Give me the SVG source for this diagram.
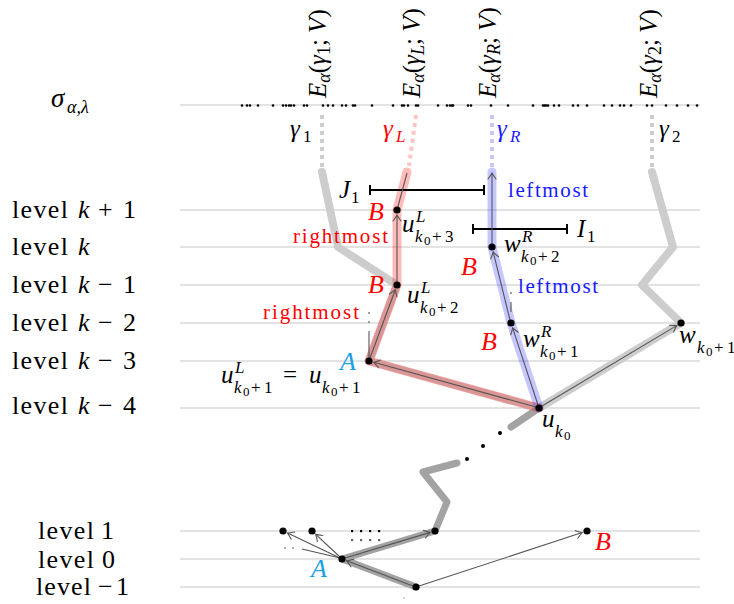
<svg xmlns="http://www.w3.org/2000/svg" width="734" height="604" viewBox="0 0 734 604">
<style>
text{font-family:"Liberation Serif","DejaVu Serif",serif;fill:#000}
.lv{font-size:26px}
.m{font-size:25px;font-style:italic}
.big{font-size:26px}
.s{font-size:17px}
.ss{font-size:13px}
.i{font-style:italic}
.u{font-style:normal}
.red{fill:#ff0000}
.blue{fill:#1a1aff}
.cy{fill:#1ba1e2}
.hl{stroke:#c8c8c8;stroke-width:1.2;fill:none}
.col{stroke-width:4;stroke-dasharray:4 4;fill:none}
.gl{stroke:#cdcdcd;stroke-width:8;fill:none;stroke-linecap:round;stroke-linejoin:round}
.gd{stroke:#a3a3a3;stroke-width:7;fill:none;stroke-linecap:round;stroke-linejoin:round}
.rb{stroke:#ff0000;stroke-opacity:0.27;stroke-width:9;fill:none;stroke-linecap:round;stroke-linejoin:round}
.bb{stroke:#0000ff;stroke-opacity:0.22;stroke-width:9;fill:none;stroke-linecap:round;stroke-linejoin:round}
.ar{stroke:#555;stroke-width:1.1;fill:none;marker-end:url(#ah)}
.ln{stroke:#555;stroke-width:1.1;fill:none}
.nd{fill:#000}
.sd{fill:#000}
.an{font-size:21px}
.rot{font-size:25px}
.rs{font-size:18px}
</style>
<defs>
<marker id="ah" markerWidth="10" markerHeight="10" viewBox="-8 -5 10 10" refX="0" refY="0" orient="auto" markerUnits="userSpaceOnUse">
<path d="M-6,-4 Q-2,-1 0,0 Q-2,1 -6,4" fill="none" stroke="#555" stroke-width="1.1" stroke-linecap="round"/>
</marker>
</defs>

<g id="levels">
<line class="hl" x1="180" y1="105" x2="700" y2="105"/>
<line class="hl" x1="180" y1="210" x2="700" y2="210"/>
<line class="hl" x1="180" y1="247" x2="700" y2="247"/>
<line class="hl" x1="180" y1="285" x2="700" y2="285"/>
<line class="hl" x1="180" y1="323" x2="700" y2="323"/>
<line class="hl" x1="180" y1="361" x2="700" y2="361"/>
<line class="hl" x1="180" y1="408" x2="700" y2="408"/>
<line class="hl" x1="180" y1="531" x2="700" y2="531"/>
<line class="hl" x1="180" y1="559" x2="700" y2="559"/>
<line class="hl" x1="180" y1="587" x2="700" y2="587"/>
</g>

<g id="level-labels">
<text class="lv" y="218"><tspan x="12" textLength="56">level</tspan><tspan x="78" class="i">k</tspan><tspan x="98">+</tspan><tspan x="123">1</tspan></text>
<text class="lv" y="255"><tspan x="12" textLength="56">level</tspan><tspan x="78" class="i">k</tspan></text>
<text class="lv" y="293"><tspan x="12" textLength="56">level</tspan><tspan x="78" class="i">k</tspan><tspan x="98">−</tspan><tspan x="123">1</tspan></text>
<text class="lv" y="331"><tspan x="12" textLength="56">level</tspan><tspan x="78" class="i">k</tspan><tspan x="98">−</tspan><tspan x="123">2</tspan></text>
<text class="lv" y="369"><tspan x="12" textLength="56">level</tspan><tspan x="78" class="i">k</tspan><tspan x="98">−</tspan><tspan x="123">3</tspan></text>
<text class="lv" y="414"><tspan x="12" textLength="56">level</tspan><tspan x="78" class="i">k</tspan><tspan x="98">−</tspan><tspan x="123">4</tspan></text>
<text class="lv" y="539"><tspan x="38" textLength="56">level</tspan><tspan x="101">1</tspan></text>
<text class="lv" y="568"><tspan x="38" textLength="56">level</tspan><tspan x="102">0</tspan></text>
<text class="lv" y="595"><tspan x="36" textLength="55">level</tspan><tspan x="98">−</tspan><tspan x="116">1</tspan></text>
<text class="m" style="font-size:27px" x="51" y="107">σ<tspan class="s" style="font-size:18px" x="67" y="113">α,λ</tspan></text>
</g>

<g id="sigma-points">
<circle class="sd" cx="242" cy="105.5" r="1.3"/><circle class="sd" cx="247" cy="105.5" r="1.3"/><circle class="sd" cx="250" cy="105.5" r="1.3"/><circle class="sd" cx="258" cy="105.5" r="1.3"/>
<circle class="sd" cx="273" cy="105.5" r="1.3"/><circle class="sd" cx="283" cy="105.5" r="1.3"/><circle class="sd" cx="286" cy="105.5" r="1.3"/><circle class="sd" cx="289" cy="105.5" r="1.3"/>
<circle class="sd" cx="291" cy="105.5" r="1.3"/><circle class="sd" cx="294" cy="105.5" r="1.3"/><circle class="sd" cx="304" cy="105.5" r="1.3"/><circle class="sd" cx="307" cy="105.5" r="1.3"/>
<circle class="sd" cx="323" cy="105.5" r="1.3"/><circle class="sd" cx="328" cy="105.5" r="1.3"/><circle class="sd" cx="333" cy="105.5" r="1.3"/><circle class="sd" cx="342" cy="105.5" r="1.3"/>
<circle class="sd" cx="346" cy="105.5" r="1.3"/><circle class="sd" cx="353" cy="105.5" r="1.3"/><circle class="sd" cx="355" cy="105.5" r="1.3"/><circle class="sd" cx="372" cy="105.5" r="1.3"/>
<circle class="sd" cx="393" cy="105.5" r="1.3"/><circle class="sd" cx="402" cy="105.5" r="1.3"/><circle class="sd" cx="404" cy="105.5" r="1.3"/><circle class="sd" cx="408" cy="105.5" r="1.3"/>
<circle class="sd" cx="416" cy="105.5" r="1.3"/><circle class="sd" cx="418" cy="105.5" r="1.3"/><circle class="sd" cx="438" cy="105.5" r="1.3"/><circle class="sd" cx="447" cy="105.5" r="1.3"/>
<circle class="sd" cx="452" cy="105.5" r="1.3"/><circle class="sd" cx="468" cy="105.5" r="1.3"/><circle class="sd" cx="450" cy="105.5" r="1.3"/><circle class="sd" cx="453" cy="105.5" r="1.3"/>
<circle class="sd" cx="471" cy="105.5" r="1.3"/><circle class="sd" cx="491" cy="105.5" r="1.3"/><circle class="sd" cx="508" cy="105.5" r="1.3"/><circle class="sd" cx="533" cy="105.5" r="1.3"/>
<circle class="sd" cx="543" cy="105.5" r="1.3"/><circle class="sd" cx="544.5" cy="105.5" r="1.3"/><circle class="sd" cx="546" cy="105.5" r="1.3"/><circle class="sd" cx="548" cy="105.5" r="1.3"/>
<circle class="sd" cx="554" cy="105.5" r="1.3"/><circle class="sd" cx="559" cy="105.5" r="1.3"/><circle class="sd" cx="573" cy="105.5" r="1.3"/><circle class="sd" cx="578" cy="105.5" r="1.3"/>
<circle class="sd" cx="587" cy="105.5" r="1.3"/><circle class="sd" cx="604" cy="105.5" r="1.3"/><circle class="sd" cx="612" cy="105.5" r="1.3"/><circle class="sd" cx="620" cy="105.5" r="1.3"/>
<circle class="sd" cx="624" cy="105.5" r="1.3"/><circle class="sd" cx="631" cy="105.5" r="1.3"/><circle class="sd" cx="647" cy="105.5" r="1.3"/><circle class="sd" cx="652" cy="105.5" r="1.3"/>
<circle class="sd" cx="666" cy="105.5" r="1.3"/><circle class="sd" cx="677" cy="105.5" r="1.3"/><circle class="sd" cx="688" cy="105.5" r="1.3"/><circle class="sd" cx="697" cy="105.5" r="1.3"/>
</g>

<g id="energy-labels">
<text class="rot" transform="translate(326,98) rotate(-90)"><tspan class="i">E</tspan><tspan class="rs i" dy="4">α</tspan><tspan dy="-4">(</tspan><tspan class="i">γ</tspan><tspan class="rs" dy="4">1</tspan><tspan dy="-4">;</tspan><tspan class="i"> V</tspan>)</text>
<text class="rot" transform="translate(420,98) rotate(-90)"><tspan class="i">E</tspan><tspan class="rs i" dy="4">α</tspan><tspan dy="-4">(</tspan><tspan class="i">γ</tspan><tspan class="rs i" dy="4">L</tspan><tspan dy="-4">;</tspan><tspan class="i"> V</tspan>)</text>
<text class="rot" transform="translate(496,98) rotate(-90)"><tspan class="i">E</tspan><tspan class="rs i" dy="4">α</tspan><tspan dy="-4">(</tspan><tspan class="i">γ</tspan><tspan class="rs i" dy="4">R</tspan><tspan dy="-4">;</tspan><tspan class="i"> V</tspan>)</text>
<text class="rot" transform="translate(657,98) rotate(-90)"><tspan class="i">E</tspan><tspan class="rs i" dy="4">α</tspan><tspan dy="-4">(</tspan><tspan class="i">γ</tspan><tspan class="rs" dy="4">2</tspan><tspan dy="-4">;</tspan><tspan class="i"> V</tspan>)</text>
</g>

<g id="columns">
<line class="col" stroke="#cccccc" x1="322" y1="115" x2="322" y2="168"/>
<line class="col" stroke="#ffc4c4" x1="416" y1="115" x2="409" y2="166"/>
<line class="col" stroke="#c8c8ff" x1="492" y1="115" x2="492" y2="168"/>
<line class="col" stroke="#cccccc" x1="652" y1="115" x2="652" y2="168"/>
<text class="m" x="290" y="137">γ<tspan class="s u" x="303" y="142">1</tspan></text>
<text class="m red" x="383" y="137">γ<tspan class="s" x="396" y="142">L</tspan></text>
<text class="m blue" x="497" y="137">γ<tspan class="s" x="510" y="142">R</tspan></text>
<text class="m" x="659" y="137">γ<tspan class="s u" x="672" y="142">2</tspan></text>
</g>

<g id="paths">
<path class="gl" d="M322,172 L338,247 L397,285 L369,361 L539,408"/>
<path class="gl" d="M652,172 L673,247 L642,285 L681,323 L539,408"/>
<path class="gd" d="M539,408 L511,427"/>
<path class="gd" d="M457,463 L423,472 L447,502 L435,531 L342,559 L416,587"/>
<path class="rb" d="M407,172 L397,210 L397,285 L369,361 L539,408"/>
<path class="bb" d="M492,172 L492,247 L511,323 L539,408"/>
</g>

<g id="intervals" stroke="#000" stroke-width="2" fill="none">
<line x1="370" y1="190" x2="484" y2="190"/>
<line x1="370" y1="185" x2="370" y2="195"/>
<line x1="484" y1="185" x2="484" y2="195"/>
<line x1="473" y1="229" x2="567" y2="229"/>
<line x1="473" y1="224" x2="473" y2="234"/>
<line x1="567" y1="224" x2="567" y2="234"/>
</g>
<text class="m" x="339" y="198">J<tspan class="s u" x="351" y="203">1</tspan></text>
<text class="m" x="577" y="237">I<tspan class="s u" x="587" y="242">1</tspan></text>

<g id="connectors">
<path class="ln" d="M397,210 L407,173"/>
<path class="ar" d="M397,282 L397,215"/>
<path class="ar" d="M370,358 L395.3,289.7"/>
<path class="ar" d="M536,407 L373.8,362.3"/>
<path class="ar" d="M538,405 L512.6,327.8"/>
<path class="ar" d="M510,320 L493.2,251.9"/>
<path class="ar" d="M492,244 L492,173"/>
<path class="ar" d="M542,406 L676.7,325.6"/>
<path class="ar" d="M340,558 L287.5,533.1"/>
<path class="ar" d="M340,557 L315.7,534.4"/>
<path class="ar" d="M345,558 L430.2,532.4"/>
<path class="ar" d="M413,586 L346.7,560.8"/>
<path class="ar" d="M419,586 L582.2,532.6"/>
<path class="ln" d="M340,558 L302,549" stroke="#777"/>
<path class="ln" d="M369,331 L369,358" stroke="#888"/>
<path class="ln" d="M511,302 L511,312" stroke="#888"/>
</g>

<g id="small-marks">
<circle cx="369" cy="313" r="1.1" fill="#888"/><circle cx="369" cy="322" r="1.1" fill="#888"/>
<circle cx="511" cy="293" r="1.1" fill="#888"/>
<circle cx="285" cy="548" r="1" fill="#999"/><circle cx="293" cy="548" r="1" fill="#999"/>
<circle cx="404" cy="598" r="0.8" fill="#999"/>
<circle cx="467" cy="459" r="2" fill="#000"/><circle cx="483" cy="446" r="2" fill="#000"/><circle cx="500" cy="433" r="2" fill="#000"/>
<rect x="351" y="530" width="2.2" height="2.2" fill="#000"/><rect x="360" y="530" width="2.2" height="2.2" fill="#000"/><rect x="369" y="530" width="2.2" height="2.2" fill="#000"/><rect x="378" y="530" width="2.2" height="2.2" fill="#000"/>
<rect x="351" y="539" width="2.2" height="2.2" fill="#666"/><rect x="360" y="539" width="2.2" height="2.2" fill="#666"/><rect x="369" y="539" width="2.2" height="2.2" fill="#666"/><rect x="378" y="539" width="2.2" height="2.2" fill="#666"/>
</g>

<g id="n-B3"><circle class="nd" cx="397" cy="210" r="3.6"/><text class="m big red" x="368" y="220">B</text></g>
<g id="n-uL3"><text class="m" x="402" y="232">u<tspan class="s" x="416" y="222">L</tspan><tspan class="s" x="415" y="242">k</tspan><tspan class="ss u" x="424" y="245">0</tspan><tspan class="s u" x="432" y="242">+</tspan><tspan class="s u" x="445" y="242">3</tspan></text></g>
<g id="n-B2"><circle class="nd" cx="397" cy="285" r="3.6"/><text class="m big red" x="368" y="293">B</text></g>
<g id="n-uL2"><text class="m" x="407" y="303">u<tspan class="s" x="421" y="293">L</tspan><tspan class="s" x="420" y="313">k</tspan><tspan class="ss u" x="429" y="316">0</tspan><tspan class="s u" x="437" y="313">+</tspan><tspan class="s u" x="450" y="313">2</tspan></text></g>
<g id="n-A"><circle class="nd" cx="369" cy="361" r="3.6"/><text class="m big cy" x="340" y="370">A</text></g>
<g id="n-uL1"><text class="m" x="221" y="383">u<tspan class="s" x="235" y="373">L</tspan><tspan class="s" x="234" y="393">k</tspan><tspan class="ss u" x="243" y="396">0</tspan><tspan class="s u" x="251" y="393">+</tspan><tspan class="s u" x="264" y="393">1</tspan><tspan class="u" x="283" y="383">=</tspan><tspan x="309" y="383">u</tspan><tspan class="s" x="322" y="393">k</tspan><tspan class="ss u" x="331" y="396">0</tspan><tspan class="s u" x="339" y="393">+</tspan><tspan class="s u" x="352" y="393">1</tspan></text></g>
<g id="n-uk0"><circle class="nd" cx="539" cy="408" r="3.6"/><text class="m" x="542" y="427">u<tspan class="s" x="555" y="437">k</tspan><tspan class="ss u" x="564" y="440">0</tspan></text></g>
<g id="n-wR2"><circle class="nd" cx="492" cy="247" r="3.6"/><text class="m" x="504" y="252">w<tspan class="s" x="522" y="242">R</tspan><tspan class="s" x="521" y="262">k</tspan><tspan class="ss u" x="530" y="265">0</tspan><tspan class="s u" x="538" y="262">+</tspan><tspan class="s u" x="551" y="262">2</tspan></text><text class="m big red" x="461" y="275">B</text></g>
<g id="n-wR1"><circle class="nd" cx="511" cy="323" r="3.6"/><text class="m" x="523" y="347">w<tspan class="s" x="541" y="337">R</tspan><tspan class="s" x="540" y="357">k</tspan><tspan class="ss u" x="549" y="360">0</tspan><tspan class="s u" x="557" y="357">+</tspan><tspan class="s u" x="570" y="357">1</tspan></text><text class="m big red" x="481" y="350">B</text></g>
<g id="n-w1"><circle class="nd" cx="681" cy="323" r="3.6"/><text class="m" x="679" y="343">w<tspan class="s" x="697" y="353">k</tspan><tspan class="ss u" x="706" y="356">0</tspan><tspan class="s u" x="714" y="353">+</tspan><tspan class="s u" x="727" y="353">1</tspan></text></g>

<g id="n-b1a"><circle class="nd" cx="283" cy="531" r="3.6"/></g>
<g id="n-b1b"><circle class="nd" cx="312" cy="531" r="3.6"/></g>
<g id="n-b1c"><circle class="nd" cx="435" cy="531" r="3.6"/></g>
<g id="n-A0"><circle class="nd" cx="342" cy="559" r="3.6"/><text class="m big cy" x="311" y="577">A</text></g>
<g id="n-root"><circle class="nd" cx="416" cy="587" r="3.6"/></g>
<g id="n-B0"><circle class="nd" cx="587" cy="531" r="3.6"/><text class="m big red" x="595" y="550">B</text></g>

<g id="annotations">
<text class="an red" x="293" y="243" textLength="95">rightmost</text>
<text class="an red" x="263" y="319" textLength="96">rightmost</text>
<text class="an blue" x="508" y="197" textLength="80">leftmost</text>
<text class="an blue" x="518" y="293" textLength="80">leftmost</text>
</g>
</svg>
